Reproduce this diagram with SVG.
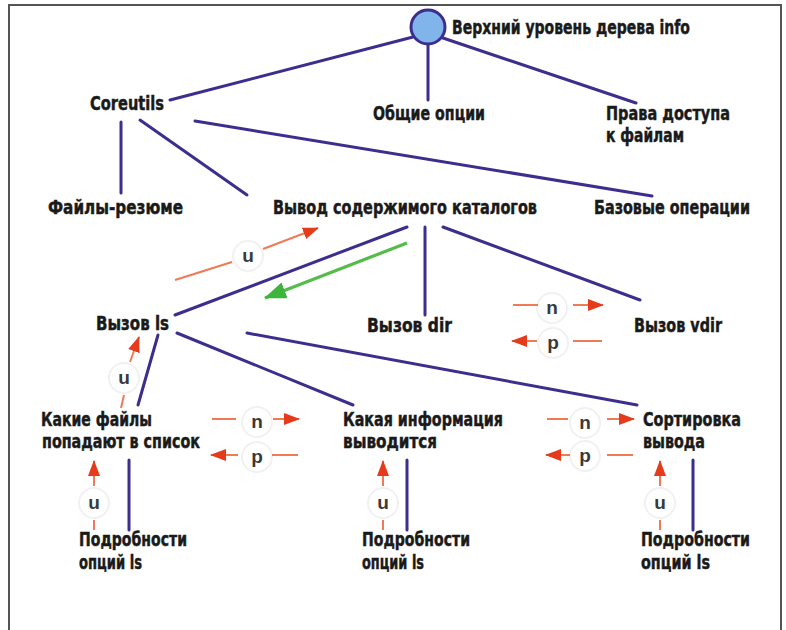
<svg xmlns="http://www.w3.org/2000/svg" width="786" height="630" viewBox="0 0 786 630">
  <style>
    .t { font-family: "Liberation Sans Narrow", "DejaVu Sans Condensed", "Liberation Sans", sans-serif; font-stretch: condensed; font-weight: bold; font-size: 19.5px; fill: #1a1a1a; stroke: #1a1a1a; stroke-width: 0.45; }
    .l { font-family: "Liberation Sans", "DejaVu Sans", sans-serif; font-weight: bold; font-size: 19px; fill: #3a3a3a; text-anchor: middle; }
    .edge { stroke: #3d2e8e; stroke-width: 3; fill: none; stroke-linecap: round; }
    .nav { stroke: #ef7a55; stroke-width: 2; fill: none; }
    .navh { stroke: #ef7a55; stroke-width: 2; fill: none; marker-end: url(#redHead); }
    .badge { fill: #ffffff; stroke: #f1f1f1; stroke-width: 2; }
    .green { stroke: #55bb4a; stroke-width: 3.2; fill: none; marker-end: url(#greenHead); }
  </style>
  <defs>
    <marker id="redHead" viewBox="0 0 16 12" refX="15" refY="6" markerUnits="userSpaceOnUse" markerWidth="16" markerHeight="12" orient="auto">
      <path d="M0,0 L16,6 L0,12 Z" fill="#e63a1c"/>
    </marker>
    <marker id="greenHead" viewBox="0 0 22 17" refX="21" refY="8.5" markerUnits="userSpaceOnUse" markerWidth="22" markerHeight="17" orient="auto">
      <path d="M0,0 L22,8.5 L0,17 Z" fill="#3cb53a"/>
    </marker>
  </defs>
  <rect width="786" height="630" fill="#ffffff"/>
  <path d="M9,640 V5 H781 V640" fill="none" stroke="#555555" stroke-width="2"/>

  <g id="connectors">
    <line class="edge" x1="413" y1="37" x2="170" y2="100"/>
    <line class="edge" x1="428" y1="45" x2="428" y2="100"/>
    <line class="edge" x1="443" y1="38" x2="636" y2="103"/>
    <line class="edge" x1="121" y1="122" x2="121" y2="193"/>
    <line class="edge" x1="140" y1="120" x2="247" y2="195"/>
    <line class="edge" x1="195" y1="121" x2="652" y2="196"/>
    <line class="edge" x1="407" y1="227" x2="175" y2="315"/>
    <line class="edge" x1="425" y1="227" x2="425" y2="315"/>
    <line class="edge" x1="443" y1="227" x2="640" y2="300"/>
    <line class="edge" x1="158" y1="335" x2="138" y2="405"/>
    <line class="edge" x1="177" y1="333" x2="353" y2="405"/>
    <line class="edge" x1="247" y1="333" x2="637" y2="405"/>
    <line class="edge" x1="129" y1="460" x2="129" y2="530"/>
    <line class="edge" x1="407" y1="460" x2="407" y2="530"/>
    <line class="edge" x1="693" y1="460" x2="693" y2="530"/>
  </g>

  <g id="navigation">
    <line class="green" x1="407" y1="243" x2="265" y2="298"/>
    <g id="nav-up-1">
      <line class="nav" x1="175" y1="280" x2="232" y2="262"/>
      <circle class="badge" cx="248" cy="256" r="15"/>
      <text class="l" x="248" y="262">u</text>
      <line class="navh" x1="263" y1="249" x2="318" y2="228"/>
    </g>
    <g id="nav-up-2">
      <line class="nav" x1="121" y1="408" x2="124" y2="395"/>
      <circle class="badge" cx="124" cy="378" r="15"/>
      <text class="l" x="124" y="384">u</text>
      <line class="navh" x1="130" y1="362" x2="139" y2="337"/>
    </g>
    <g id="nav-np-1">
      <circle class="badge" cx="552" cy="308" r="15"/>
      <circle class="badge" cx="553" cy="343" r="15"/>
      <text class="l" x="552" y="314">n</text>
      <text class="l" x="553" y="349">p</text>
      <line class="nav" x1="513" y1="305" x2="538" y2="305"/>
      <line class="navh" x1="573" y1="305" x2="603" y2="305"/>
      <line class="nav" x1="573" y1="341" x2="602" y2="341"/>
      <line class="navh" x1="537" y1="341" x2="512" y2="341"/>
    </g>
    <g id="nav-np-2">
      <circle class="badge" cx="257" cy="422" r="15"/>
      <circle class="badge" cx="257" cy="457" r="15"/>
      <text class="l" x="257" y="428">n</text>
      <text class="l" x="257" y="463">p</text>
      <line class="nav" x1="212" y1="419" x2="236" y2="419"/>
      <line class="navh" x1="273" y1="419" x2="299" y2="419"/>
      <line class="nav" x1="272" y1="455" x2="298" y2="455"/>
      <line class="navh" x1="238" y1="455" x2="211" y2="455"/>
    </g>
    <g id="nav-np-3">
      <circle class="badge" cx="585" cy="423" r="15"/>
      <circle class="badge" cx="585" cy="456" r="15"/>
      <text class="l" x="585" y="429">n</text>
      <text class="l" x="585" y="462">p</text>
      <line class="nav" x1="547" y1="419" x2="568" y2="419"/>
      <line class="navh" x1="607" y1="419" x2="634" y2="419"/>
      <line class="nav" x1="607" y1="455" x2="633" y2="455"/>
      <line class="navh" x1="570" y1="455" x2="546" y2="455"/>
    </g>
    <g id="nav-up-3">
      <line class="navh" x1="94" y1="486" x2="94" y2="461"/>
      <circle class="badge" cx="94" cy="503" r="15"/>
      <text class="l" x="94" y="509">u</text>
      <line class="nav" x1="94" y1="520" x2="94" y2="530"/>
    </g>
    <g id="nav-up-4">
      <line class="navh" x1="383" y1="486" x2="383" y2="461"/>
      <circle class="badge" cx="383" cy="503" r="15"/>
      <text class="l" x="383" y="509">u</text>
      <line class="nav" x1="383" y1="520" x2="383" y2="530"/>
    </g>
    <g id="nav-up-5">
      <line class="navh" x1="660" y1="486" x2="660" y2="461"/>
      <circle class="badge" cx="660" cy="503" r="15"/>
      <text class="l" x="660" y="509">u</text>
      <line class="nav" x1="660" y1="520" x2="660" y2="530"/>
    </g>
  </g>

  <g id="root">
    <circle cx="428" cy="27" r="17" fill="#80b4ea" stroke="#3d2e8e" stroke-width="3"/>
    <text class="t" x="452" y="34" textLength="238" lengthAdjust="spacingAndGlyphs">Верхний уровень дерева info</text>
  </g>
  <g id="coreutils"><text class="t" x="90" y="110" textLength="74" lengthAdjust="spacingAndGlyphs">Coreutils</text></g>
  <g id="common-options"><text class="t" x="373" y="120" textLength="112" lengthAdjust="spacingAndGlyphs">Общие опции</text></g>
  <g id="file-permissions">
    <text class="t" x="606" y="120" textLength="124" lengthAdjust="spacingAndGlyphs">Права доступа</text>
    <text class="t" x="606" y="142" textLength="78" lengthAdjust="spacingAndGlyphs">к файлам</text>
  </g>
  <g id="file-summary"><text class="t" x="48" y="214" textLength="135" lengthAdjust="spacingAndGlyphs">Файлы-резюме</text></g>
  <g id="dir-listing"><text class="t" x="273" y="214" textLength="264" lengthAdjust="spacingAndGlyphs">Вывод содержимого каталогов</text></g>
  <g id="basic-ops"><text class="t" x="594" y="214" textLength="156" lengthAdjust="spacingAndGlyphs">Базовые операции</text></g>
  <g id="ls-invocation"><text class="t" x="96" y="330" textLength="73" lengthAdjust="spacingAndGlyphs">Вызов ls</text></g>
  <g id="dir-invocation"><text class="t" x="367" y="332" textLength="85" lengthAdjust="spacingAndGlyphs">Вызов dir</text></g>
  <g id="vdir-invocation"><text class="t" x="634" y="332" textLength="88" lengthAdjust="spacingAndGlyphs">Вызов vdir</text></g>
  <g id="which-files">
    <text class="t" x="41" y="426" textLength="111" lengthAdjust="spacingAndGlyphs">Какие файлы</text>
    <text class="t" x="42" y="448" textLength="158" lengthAdjust="spacingAndGlyphs">попадают в список</text>
  </g>
  <g id="what-info">
    <text class="t" x="343" y="426" textLength="160" lengthAdjust="spacingAndGlyphs">Какая информация</text>
    <text class="t" x="343" y="448" textLength="94" lengthAdjust="spacingAndGlyphs">выводится</text>
  </g>
  <g id="sorting">
    <text class="t" x="643" y="426" textLength="98" lengthAdjust="spacingAndGlyphs">Сортировка</text>
    <text class="t" x="643" y="448" textLength="62" lengthAdjust="spacingAndGlyphs">вывода</text>
  </g>
  <g id="details-1">
    <text class="t" x="79" y="546" textLength="108" lengthAdjust="spacingAndGlyphs">Подробности</text>
    <text class="t" x="79" y="569" textLength="63" lengthAdjust="spacingAndGlyphs">опций ls</text>
  </g>
  <g id="details-2">
    <text class="t" x="362" y="546" textLength="108" lengthAdjust="spacingAndGlyphs">Подробности</text>
    <text class="t" x="362" y="569" textLength="62" lengthAdjust="spacingAndGlyphs">опций ls</text>
  </g>
  <g id="details-3">
    <text class="t" x="641" y="546" textLength="109" lengthAdjust="spacingAndGlyphs">Подробности</text>
    <text class="t" x="641" y="569" textLength="69" lengthAdjust="spacingAndGlyphs">опций ls</text>
  </g>
</svg>
